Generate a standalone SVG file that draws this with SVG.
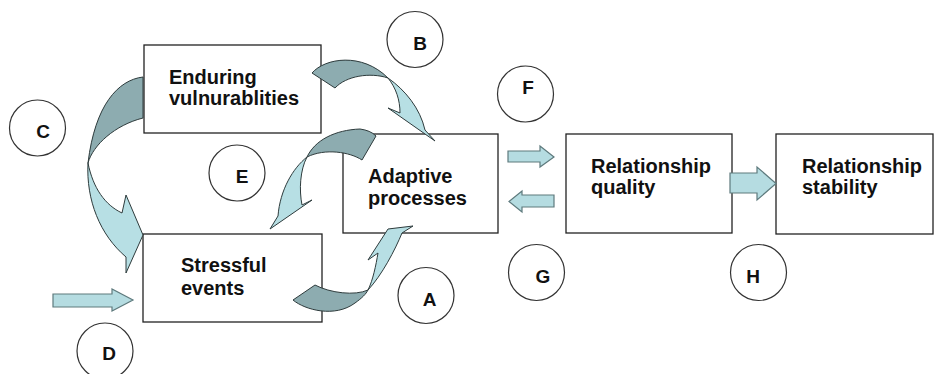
<svg xmlns="http://www.w3.org/2000/svg" width="934" height="374" viewBox="0 0 934 374">
<style>
.box{fill:#fff;stroke:#222;stroke-width:1.3}
.lbl{font-family:"Liberation Sans",Arial,sans-serif;font-weight:bold;font-size:20px;fill:#111}
.circ{fill:#fff;stroke:#333;stroke-width:1.2}
.cl{font-family:"Liberation Sans",Arial,sans-serif;font-weight:bold;font-size:19px;fill:#111;text-anchor:middle}
.dk{fill:#8dacb0;stroke:#2e3b3c;stroke-width:1}
.lt{fill:#b7dfe4;stroke:#2e3b3c;stroke-width:1}
.st{fill:#b5dce1;stroke:#5e7a7d;stroke-width:1.2}
</style>
<rect width="934" height="374" fill="#fff"/>
<g id="node-enduring"><rect class="box" x="144" y="45" width="177" height="88"/><text class="lbl" x="169" y="84">Enduring</text><text class="lbl" x="169" y="105">vulnurablities</text></g>
<g id="node-adaptive"><rect class="box" x="343" y="134" width="155" height="99"/><text class="lbl" x="368" y="183">Adaptive</text><text class="lbl" x="368" y="205">processes</text></g>
<g id="node-stressful"><rect class="box" x="143" y="234" width="179" height="88"/><text class="lbl" x="181" y="272">Stressful</text><text class="lbl" x="181" y="295">events</text></g>
<g id="node-quality"><rect class="box" x="566" y="134" width="166" height="99"/><text class="lbl" x="591" y="173">Relationship</text><text class="lbl" x="591" y="194">quality</text></g>
<g id="node-stability"><rect class="box" x="776" y="134" width="157" height="100"/><text class="lbl" x="802" y="173">Relationship</text><text class="lbl" x="802" y="194">stability</text></g>
<g id="connectors">
<g id="arrow-C"><path class="dk" d="M143,77 C118,80 95,105 88,163 C93,145 115,125 143,118 Z"/><path class="lt" d="M88,163 C86,200 100,235 126,257 L126,273 L143,235 L126,195 L122,213 C105,205 93,188 88,163 Z"/></g>
<g id="arrow-B"><path class="dk" d="M312,73 C325,58 362,52 388,78 C370,72 346,76 335,88 Z"/><path class="lt" d="M388,78 C405,90 420,108 425,130 L435,141 L388,108 L400,113 C400,100 396,88 388,78 Z"/></g>
<g id="arrow-E"><path class="dk" d="M307,157 C315,140 335,130 360,129 C367,130 372,132 376,136 L362,160 C350,152 325,148 307,157 Z"/><path class="lt" d="M307,157 C293,168 280,190 278,216 L270,229 L312,200 L302,205 C299,190 300,170 307,157 Z"/></g>
<g id="arrow-A"><path class="dk" d="M293,300 C305,310 335,318 355,303 C362,298 366,294 368,290 C355,296 330,293 315,285 Z"/><path class="lt" d="M368,290 C382,275 395,250 402,233 L413,226 L388,229 L368,260 L378,253 C376,265 373,280 368,290 Z"/></g>
<path id="arrow-D" class="st" d="M53,294 L112,294 L112,289 L133,300 L112,311 L112,307 L53,307 Z"/>
<path id="arrow-F" class="st" d="M508,151 L540,151 L540,146 L554,157 L540,167 L540,162 L508,162 Z"/>
<path id="arrow-G" class="st" d="M554,195 L522,195 L522,191 L509,201.5 L522,212 L522,207 L554,207 Z"/>
<path id="arrow-H" class="st" d="M730,173 L757,173 L757,167 L776,183.5 L757,200 L757,193 L730,193 Z"/>
</g>
<g id="label-A"><circle class="circ" cx="426" cy="295.5" r="28"/><text class="cl" x="429.5" y="306">A</text></g>
<g id="label-B"><circle class="circ" cx="415" cy="39.5" r="28"/><text class="cl" x="420" y="50">B</text></g>
<g id="label-C"><circle class="circ" cx="37.5" cy="128" r="28"/><text class="cl" x="43" y="138">C</text></g>
<g id="label-D"><circle class="circ" cx="105" cy="351" r="28"/><text class="cl" x="109" y="360">D</text></g>
<g id="label-E"><circle class="circ" cx="237" cy="173" r="28"/><text class="cl" x="242" y="183">E</text></g>
<g id="label-F"><circle class="circ" cx="525.5" cy="94" r="28"/><text class="cl" x="528" y="94">F</text></g>
<g id="label-G"><circle class="circ" cx="536.5" cy="272.5" r="28"/><text class="cl" x="543" y="283">G</text></g>
<g id="label-H"><circle class="circ" cx="758.5" cy="272.5" r="28"/><text class="cl" x="753" y="283">H</text></g>
</svg>
